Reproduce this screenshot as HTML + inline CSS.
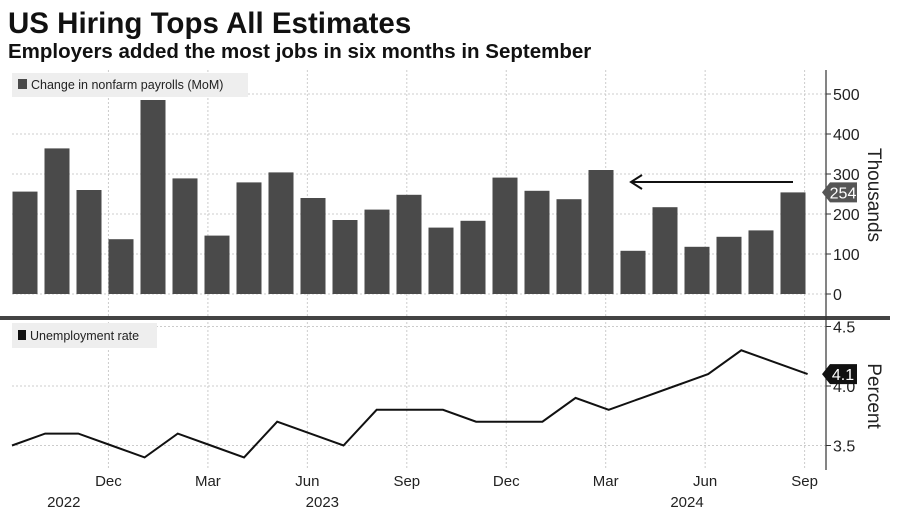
<!DOCTYPE html>
<html><head><meta charset="utf-8"><style>
body{margin:0;background:#fff;width:900px;height:510px;overflow:hidden;font-family:"Liberation Sans",sans-serif}
svg text{font-family:"Liberation Sans",sans-serif}
</style></head><body>
<svg id="c" width="900" height="510">
<text x="8" y="33" font-size="29.5" font-weight="bold" fill="#111">US Hiring Tops All Estimates</text>
<text x="8" y="58" font-size="20.5" font-weight="bold" fill="#111">Employers added the most jobs in six months in September</text>
<g id="grid"></g>
<rect x="12" y="73" width="236" height="24" fill="#eee"/>
<rect x="18" y="79" width="9" height="10" fill="#4a4a4a"/>
<text x="31" y="89" font-size="12.5" fill="#222">Change in nonfarm payrolls (MoM)</text>
<rect x="12" y="323" width="145" height="25" fill="#eee"/>
<rect x="18" y="330" width="8" height="10" fill="#111"/>
<text x="30" y="340" font-size="12.5" fill="#222">Unemployment rate</text>
<g id="bars"></g>
<g id="line"></g>
<rect x="0" y="316" width="890" height="4" fill="#444"/>
<line x1="826" y1="70" x2="826" y2="470" stroke="#333" stroke-width="1.2"/>
<g id="axes"></g>
<line x1="793" y1="182" x2="632" y2="182" stroke="#111" stroke-width="2"/>
<path d="M642,175 L631,182 L642,189" fill="none" stroke="#111" stroke-width="2"/>
<text transform="translate(868,195) rotate(90)" text-anchor="middle" font-size="19" fill="#222">Thousands</text>
<text transform="translate(868,396) rotate(90)" text-anchor="middle" font-size="19" fill="#222">Percent</text>
</svg>
<script>
const months=["Sep22","Oct22","Nov22","Dec22","Jan23","Feb23","Mar23","Apr23","May23","Jun23","Jul23","Aug23","Sep23","Oct23","Nov23","Dec23","Jan24","Feb24","Mar24","Apr24","May24","Jun24","Jul24","Aug24","Sep24"];
const payrolls=[256,364,260,137,485,289,146,279,304,240,185,211,248,166,183,291,258,237,310,108,217,118,143,159,254];
const unemployment=[3.5,3.6,3.6,3.5,3.4,3.6,3.5,3.4,3.7,3.6,3.5,3.8,3.8,3.8,3.7,3.7,3.7,3.9,3.8,3.9,4.0,4.1,4.3,4.2,4.1];
const payTicks=[0,100,200,300,400,500];
const rateTicks=[3.5,4.0,4.5];
const xTickLabels=["Dec","Mar","Jun","Sep","Dec","Mar","Jun","Sep"];
const xTickIdx=[3,6,9,12,15,18,21,24];
const yearLabels=["2022","2023","2024"];
const yearIdx=[1.2,9,20];
const NS="http://www.w3.org/2000/svg";
function mk(t,a,p){const e=document.createElementNS(NS,t);for(const k in a)e.setAttribute(k,a[k]);p.appendChild(e);return e;}
const xb=i=>25+i*32;
const xl=i=>12+i*33.15;
const yb=v=>294-v*0.4;
const yl=v=>386-(v-4)*119;
const grid=document.getElementById('grid'),bars=document.getElementById('bars'),line=document.getElementById('line'),axes=document.getElementById('axes');
payTicks.forEach(t=>{
 const l=mk('line',{x1:12,x2:826,y1:yb(t),y2:yb(t),stroke:'#ccc','stroke-dasharray':'2,2'},grid);
 
 
 mk('line',{x1:826,x2:831,y1:yb(t),y2:yb(t),stroke:'#333'},axes);
 const tx=mk('text',{x:833,y:yb(t)+6,'font-size':16,fill:'#222'},axes);tx.textContent=t;
 
 
});
rateTicks.forEach(t=>{
 const l=mk('line',{x1:12,x2:826,y1:yl(t),y2:yl(t),stroke:'#ccc','stroke-dasharray':'2,2'},grid);
 
 
 mk('line',{x1:826,x2:831,y1:yl(t),y2:yl(t),stroke:'#333'},axes);
 const tx=mk('text',{x:833,y:yl(t)+6,'font-size':16,fill:'#222'},axes);tx.textContent=t.toFixed(1);
 
 
});
xTickIdx.forEach((k,j)=>{
 const x=12+k*33.15-3;
 const l=mk('line',{x1:x,x2:x,y1:70,y2:470,stroke:'#ccc','stroke-dasharray':'2,2'},grid);
 
 
 const tx=mk('text',{x:x,y:486,'font-size':15,fill:'#222','text-anchor':'middle'},axes);tx.textContent=xTickLabels[j];
 
 
});
yearIdx.forEach((k,j)=>{
 const tx=mk('text',{x:12+k*33.15+12,y:507,'font-size':15,fill:'#222','text-anchor':'middle'},axes);tx.textContent=yearLabels[j];
 
 
});
payrolls.forEach((v,i)=>{
 const r=mk('rect',{x:xb(i)-12.5,y:yb(v),width:25,height:yb(0)-yb(v),fill:'#4a4a4a'},bars);
 
 
});
const p=mk('polyline',{points:unemployment.map((v,i)=>xl(i)+','+yl(v)).join(' '),fill:'none',stroke:'#111','stroke-width':2},line);


const lastP=payrolls[payrolls.length-1],lastR=unemployment[unemployment.length-1];
const t1=mk('path',{d:`M822,${yb(lastP)} L830,${yb(lastP)-10} L857,${yb(lastP)-10} L857,${yb(lastP)+10} L830,${yb(lastP)+10} Z`,fill:'#555'},axes);


const tt1=mk('text',{x:843,y:yb(lastP)+6,'font-size':16,fill:'#fff','text-anchor':'middle'},axes);tt1.textContent=lastP;
const t2=mk('path',{d:`M822,${yl(lastR)} L830,${yl(lastR)-10} L857,${yl(lastR)-10} L857,${yl(lastR)+10} L830,${yl(lastR)+10} Z`,fill:'#111'},axes);


const tt2=mk('text',{x:843,y:yl(lastR)+6,'font-size':16,fill:'#fff','text-anchor':'middle'},axes);tt2.textContent=lastR.toFixed(1);
</script>
</body></html>
